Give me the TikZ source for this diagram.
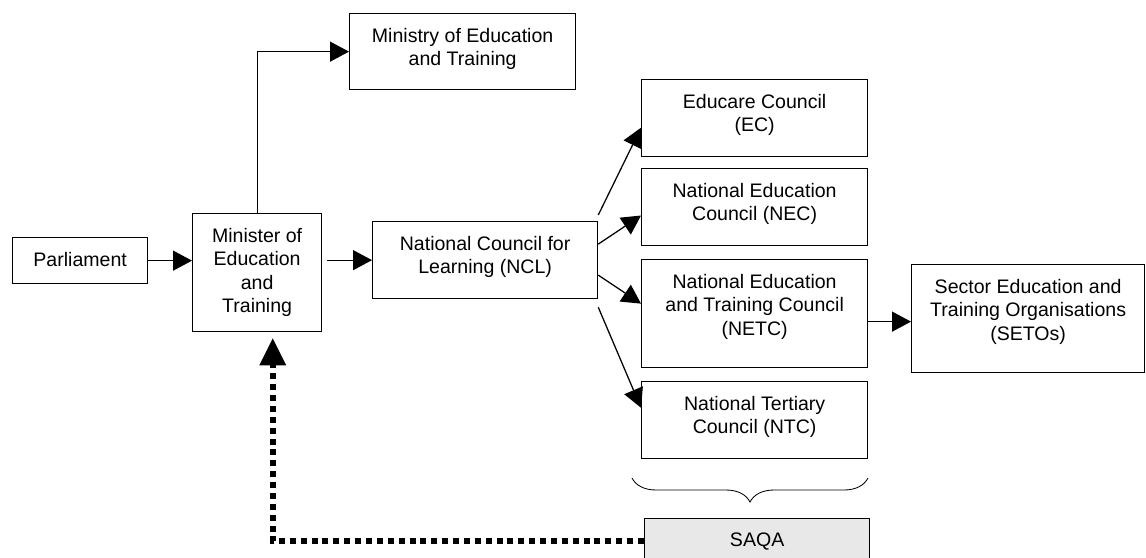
\documentclass[tikz,border=0pt]{standalone}
\usepackage{fontspec}
\setmainfont{Liberation Sans}
\usetikzlibrary{arrows.meta,decorations.pathreplacing}
\definecolor{saqagray}{HTML}{E8E8E8}

\begin{document}
\begin{tikzpicture}[x=0.25mm, y=-0.25mm,
  boxstyle/.style={draw=black, line width=0.9pt, anchor=north west, inner sep=0pt},
  textstyle/.style={anchor=north, align=center, inner sep=0pt, yshift=-3.7mm, font=\fontsize{13.9}{16.7}\selectfont},
  arrowstyle/.style={draw=black, line width=0.9pt, -{Triangle[length=4.75mm, width=5mm]}},
  dotstyle/.style={draw=black, line width=1.5mm, dash pattern=on 1.5mm off 1.22mm, -{Triangle[length=6.75mm, width=6.75mm, line width=0pt]}}]
  \clip (0,0) rectangle (1146,557);

  \node[boxstyle, minimum width=33.75mm, minimum height=11.5mm, label={[textstyle]north:Parliament}] (parl) at (12,237) {};
  \node[boxstyle, minimum width=32.25mm, minimum height=29.5mm, label={[textstyle]north:Minister of\\Education\\and\\Training}] (minister) at (192,213) {};
  \node[boxstyle, minimum width=56.5mm, minimum height=19mm, label={[textstyle]north:Ministry of Education\\and Training}] (ministry) at (349,13) {};
  \node[boxstyle, minimum width=56.25mm, minimum height=19.25mm, label={[textstyle]north:National Council for\\Learning (NCL)}] (ncl) at (372,221) {};
  \node[boxstyle, minimum width=56.5mm, minimum height=19.25mm, label={[textstyle]north:Educare Council\\(EC)}] (ec) at (641,79) {};
  \node[boxstyle, minimum width=56.5mm, minimum height=19.25mm, label={[textstyle]north:National Education\\Council (NEC)}] (nec) at (641,168) {};
  \node[boxstyle, minimum width=56.5mm, minimum height=27mm, label={[textstyle]north:National Education\\and Training Council\\(NETC)}] (netc) at (641,259) {};
  \node[boxstyle, minimum width=56.5mm, minimum height=19.25mm, label={[textstyle]north:National Tertiary\\Council (NTC)}] (ntc) at (641,381) {};
  \node[boxstyle, minimum width=58.25mm, minimum height=27mm, label={[textstyle]north:Sector Education and\\Training Organisations\\(SETOs)}] (setos) at (911,264) {};
  \node[boxstyle, fill=saqagray, minimum width=56.25mm, minimum height=11.25mm, label={[textstyle]north:SAQA}] (saqa) at (644,518) {};

  \draw[arrowstyle] (parl.east) -- (parl.east -| minister.west);
  \draw[arrowstyle] (minister.north) |- (ministry.west);
  \draw[arrowstyle] ([xshift=1.25mm]minister.east |- ncl.west) -- (ncl.west);
  \draw[arrowstyle] ([yshift=1.5mm]ncl.north east) -- ([yshift=-2.4mm]ec.west);
  \draw[arrowstyle] ([yshift=4mm]ncl.east) -- ([yshift=-2.1mm]nec.west);
  \draw[arrowstyle] ([yshift=-3.75mm]ncl.east) -- ([yshift=2.5mm]netc.west);
  \draw[arrowstyle] ([yshift=-2mm]ncl.south east) -- ([yshift=3.1mm]ntc.west);
  \draw[arrowstyle] ([yshift=-2mm]netc.east) -- ([yshift=-2mm]netc.east -| setos.west);
  \draw[line width=0.6pt, decorate, decoration={brace, amplitude=6mm}] (868,478) -- (632,478);
  \draw[dotstyle] (saqa.west) -| ([xshift=3.9mm, yshift=-1.5mm]minister.south);
\end{tikzpicture}
\end{document}
